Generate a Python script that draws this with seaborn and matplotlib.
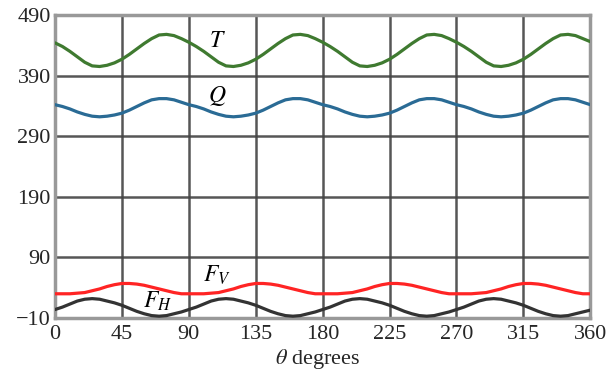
import matplotlib
matplotlib.use("Agg")
import matplotlib.pyplot as plt
import pandas as pd
import seaborn as sns

# angle samples (degrees), every 5 deg
theta = list(range(0, 365, 5))

# values
T = [444, 438, 430, 421, 412, 406, 405, 407, 411, 417, 425, 434, 443, 451, 457, 458, 456, 451,
     445, 438, 430, 421, 412, 406, 405, 407, 411, 417, 425, 434, 443, 451, 457, 458, 456, 451,
     445, 438, 430, 421, 412, 406, 405, 407, 411, 417, 425, 434, 443, 451, 457, 458, 456, 451,
     445, 438, 430, 421, 412, 406, 405, 407, 411, 417, 425, 434, 443, 451, 457, 458, 456, 451,
     446]
Q = [342, 339, 335, 330, 326, 323, 322, 323, 325, 328, 333, 339, 345, 350, 352, 352, 350, 346,
     342, 339, 335, 330, 326, 323, 322, 323, 325, 328, 333, 339, 345, 350, 352, 352, 350, 346,
     342, 339, 335, 330, 326, 323, 322, 323, 325, 328, 333, 339, 345, 350, 352, 352, 350, 346,
     342, 339, 335, 330, 326, 323, 322, 323, 325, 328, 333, 339, 345, 350, 352, 352, 350, 346,
     342]
F_V = [30, 30, 30, 31, 32, 35, 38, 42, 45, 47, 47, 46, 44, 41, 38, 35, 32, 30,
       30, 30, 30, 31, 32, 35, 38, 42, 45, 47, 47, 46, 44, 41, 38, 35, 32, 30,
       30, 30, 30, 31, 32, 35, 38, 42, 45, 47, 47, 46, 44, 41, 38, 35, 32, 30,
       30, 30, 30, 31, 32, 35, 38, 42, 45, 47, 47, 46, 44, 41, 38, 35, 32, 30,
       30]
F_H = [4, 8, 13, 18, 21, 22, 21, 18, 15, 11, 6, 1, -3, -6, -7, -6, -3, 0,
       4, 8, 13, 18, 21, 22, 21, 18, 15, 11, 6, 1, -3, -6, -7, -6, -3, 0,
       4, 8, 13, 18, 21, 22, 21, 18, 15, 11, 6, 1, -3, -6, -7, -6, -3, 0,
       4, 8, 13, 18, 21, 22, 21, 18, 15, 11, 6, 1, -3, -6, -7, -6, -3, 0,
       3]

x_ticks = [0, 45, 90, 135, 180, 225, 270, 315, 360]
y_ticks = [-10, 90, 190, 290, 390, 490]

series = {"T": T, "Q": Q, "F_V": F_V, "F_H": F_H}
colors = {"T": "#3f7a30", "Q": "#2a6b95", "F_V": "#ff2424", "F_H": "#333333"}
labels = {"T": (109, 446, r"$T$"), "Q": (109, 356, r"$Q$"),
          "F_V": (109, 60, r"$F_V$"), "F_H": (69, 17, r"$F_H$")}

df = pd.DataFrame([{"theta": t, "value": v, "series": name}
                   for name, vals in series.items() for t, v in zip(theta, vals)])

sns.set_style("white")
plt.rcParams["font.family"] = ["Liberation Serif", "DejaVu Serif"]
plt.rcParams["mathtext.fontset"] = "stix"

fig = plt.figure(figsize=(6.16, 3.70), dpi=100)
ax = fig.add_axes([0.0893, 0.1405, 0.869, 0.819])

sns.lineplot(data=df, x="theta", y="value", hue="series", palette=colors,
             linewidth=2.3, legend=False, ax=ax, zorder=3)

for name, (lx, ly, txt) in labels.items():
    ax.text(lx, ly, txt, fontsize=17, ha="center", va="center", color="black")

ax.set_xlim(0, 360)
ax.set_ylim(-10, 490)
ax.set_xticks(x_ticks)
ax.set_yticks(y_ticks)
ax.grid(True, color="#444444", linewidth=1.8, alpha=0.9)
ax.tick_params(length=0, labelsize=16)
ax.tick_params(axis="x", pad=5)
ax.tick_params(axis="y", pad=3)
for side in ["left", "right", "top", "bottom"]:
    ax.spines[side].set_color("#999999")
    ax.spines[side].set_linewidth(2.5)
ax.set_xlabel(r"$\theta$ degrees", fontsize=16)
ax.xaxis.set_label_coords(0.49, -0.135)
ax.xaxis.label.set_va("center")
ax.set_ylabel("")

fig.savefig("out.png", dpi=100)
